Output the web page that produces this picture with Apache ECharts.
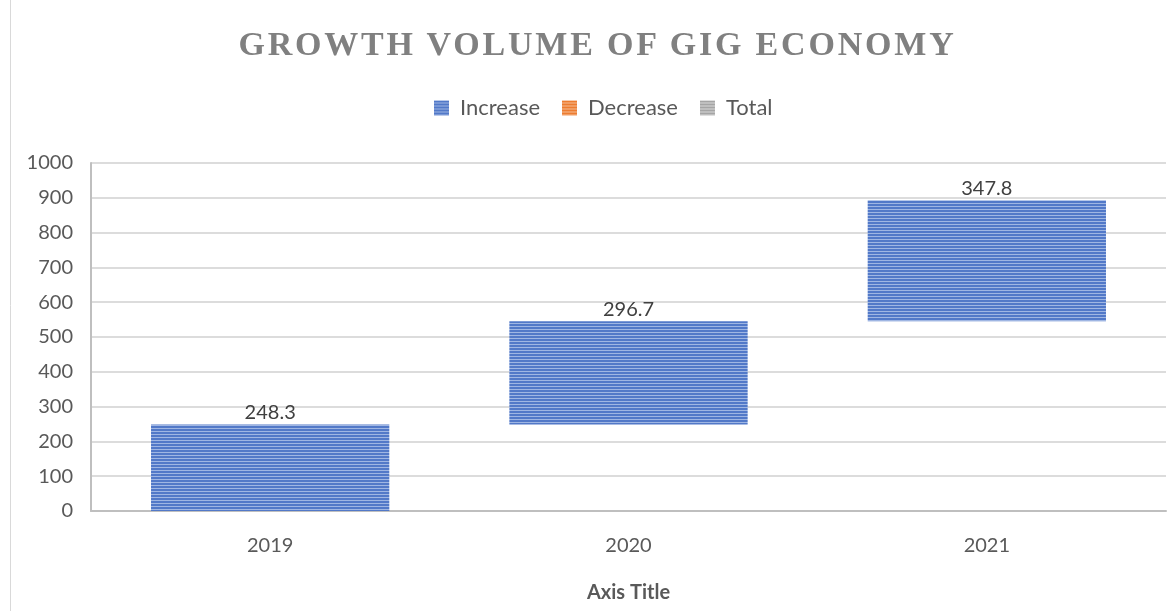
<!DOCTYPE html>
<html>
<head>
<meta charset="utf-8">
<script src="https://cdn.jsdelivr.net/npm/echarts@6/dist/echarts.min.js"></script>
<style>
  html, body { margin: 0; padding: 0; background: #fff; }
  #wrap { width: 1172px; height: 611px; position: relative; }
  #chart { width: 1172px; height: 611px; position: absolute; left: 0; top: 0; }
  #title {
    position: absolute; left: 0; top: 24px; width: 1195px; text-align: center;
    font-family: "Liberation Serif", "DejaVu Serif", serif; font-weight: bold;
    font-size: 34px; letter-spacing: 2.8px; color: #808080; z-index: 5;
    pointer-events: none; line-height: 40px; white-space: nowrap;
  }
</style>
</head>
<body>
<div id="wrap">
  <div id="chart"></div>
  <div id="title">GROWTH VOLUME OF GIG ECONOMY</div>
</div>
<script>
// chart data
const years = ['2019', '2020', '2021'];
const increase = [248.3, 296.7, 347.8];
const decrease = [];
const total = [];
const yTicks = [0, 100, 200, 300, 400, 500, 600, 700, 800, 900, 1000];

// invisible base for the waterfall = running sum of previous steps
const base = [];
let running = 0;
increase.forEach(v => { base.push(running); running += v; });

// striped fill like the Excel pattern
function stripes(dark, light) {
    const c = document.createElement('canvas');
    c.width = 3; c.height = 3;
    const g = c.getContext('2d');
    g.fillStyle = dark; g.fillRect(0, 0, 3, 3);
    g.fillStyle = light; g.fillRect(0, 2, 3, 1);
    return { image: c, repeat: 'repeat' };
}

const chartDom = document.getElementById('chart');
const myChart = echarts.init(chartDom, null, { renderer: 'canvas' });
const font = 'Lato, "Open Sans", sans-serif';

myChart.setOption({
    animation: false,
    legend: {
        top: 92,
        left: 429,
        icon: 'rect',
        itemWidth: 15,
        itemHeight: 15,
        itemGap: 22,
        textStyle: { fontFamily: font, fontSize: 22, color: '#595959', padding: [0, 0, 0, 6] },
        data: ['Increase', 'Decrease', 'Total']
    },
    graphic: [{
        type: 'line',
        shape: { x1: 10.5, y1: 0, x2: 10.5, y2: 611 },
        style: { stroke: '#d9d9d9', lineWidth: 1 }
    }],
    grid: { left: 91, right: 6, top: 163, bottom: 100, containLabel: false },
    xAxis: {
        type: 'category',
        data: years,
        name: 'Axis Title',
        nameLocation: 'middle',
        nameGap: 72,
        nameTextStyle: { fontFamily: font, fontSize: 20, fontWeight: 'bold', color: '#595959' },
        axisLine: { lineStyle: { color: '#bfbfbf', width: 2 } },
        axisTick: { show: false },
        axisLabel: { fontFamily: font, fontSize: 20, color: '#595959', margin: 25 }
    },
    yAxis: {
        type: 'value',
        min: yTicks[0],
        max: yTicks[yTicks.length - 1],
        interval: 100,
        axisLine: { show: true, lineStyle: { color: '#bfbfbf', width: 2 } },
        axisTick: { show: false },
        splitLine: { lineStyle: { color: '#d0d0d0', width: 1.5 } },
        axisLabel: {
            fontFamily: font, fontSize: 20, color: '#595959', margin: 18,
            formatter: v => String(v)
        }
    },
    series: [
        {
            name: 'base',
            type: 'bar',
            stack: 'w',
            data: base,
            itemStyle: { color: 'transparent' },
            emphasis: { disabled: true },
            barCategoryGap: '33.5%'
        },
        {
            name: 'Increase',
            type: 'bar',
            stack: 'w',
            data: increase,
            itemStyle: { color: stripes('#5279c8', '#9fb6e3') },
            label: {
                show: true, position: 'top', distance: 2,
                fontFamily: font, fontSize: 20, color: '#404040'
            }
        },
        {
            name: 'Decrease',
            type: 'bar',
            stack: 'w',
            data: decrease,
            itemStyle: { color: stripes('#ed7d31', '#f6bd96') }
        },
        {
            name: 'Total',
            type: 'bar',
            stack: 'w',
            data: total,
            itemStyle: { color: stripes('#a5a5a5', '#dadada') }
        }
    ]
});

window.addEventListener('resize', () => {
    myChart.resize();
});
</script>
</body>
</html>
